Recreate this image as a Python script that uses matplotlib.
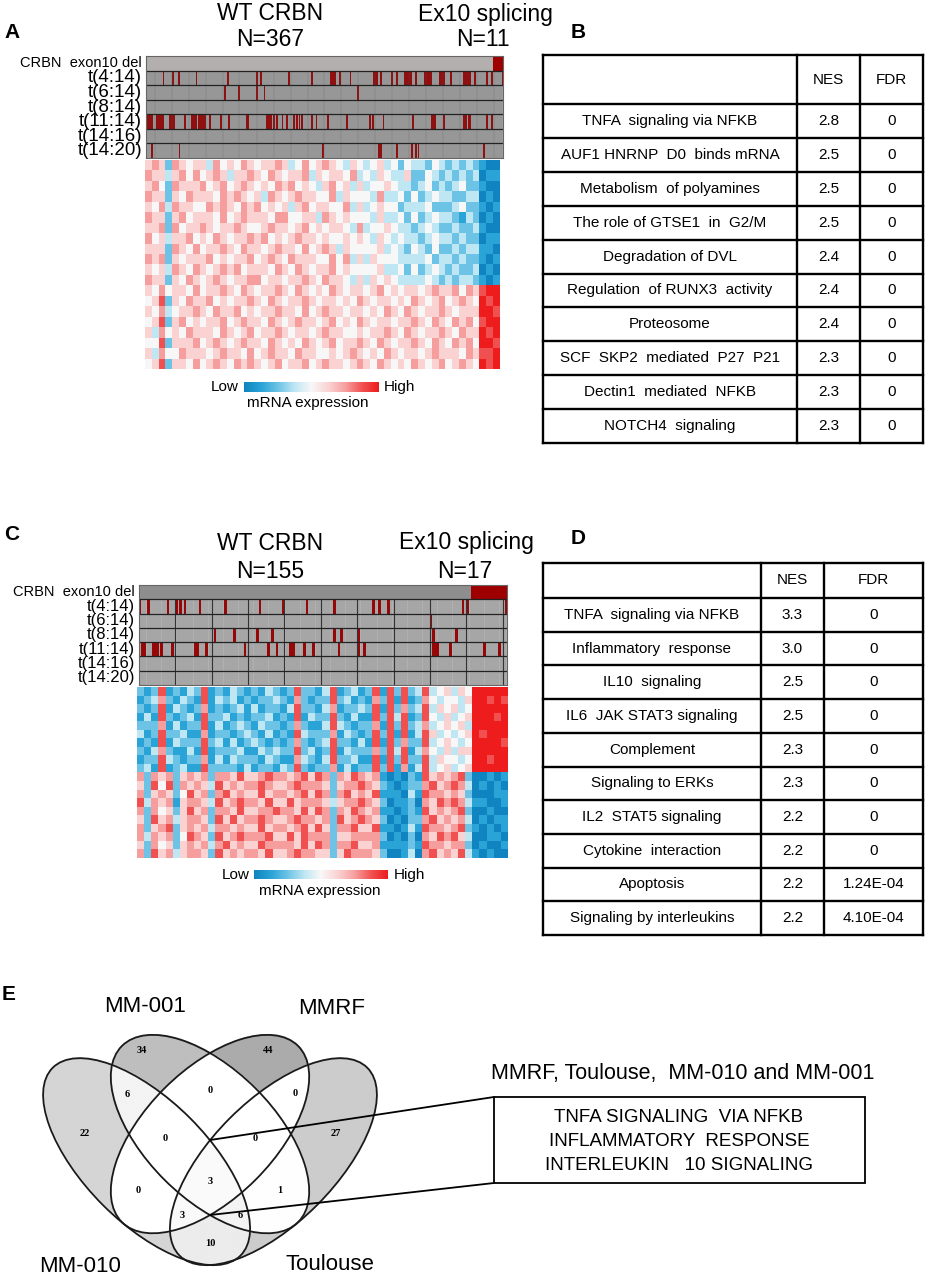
import numpy as np
import matplotlib.pyplot as plt
from matplotlib.colors import LinearSegmentedColormap, ListedColormap
from matplotlib.patches import Ellipse, Rectangle, ConnectionPatch

plt.rcParams['font.family'] = ['Liberation Sans', 'DejaVu Sans']

W, H = 927, 1278

# -----------------------------------
# Data
# -----------------------------------

track_names = ["CRBN  exon10 del", "t(4:14)", "t(6:14)", "t(8:14)",
               "t(11:14)", "t(14:16)", "t(14:20)"]

# panel A cohort
a_n_wt, a_n_ex = 367, 11
a_t4_14 = [18, 28, 34, 53, 86, 117, 121, 151, 175, 195, 196, 197, 198, 199, 200,
           205, 216, 241, 242, 243, 244, 248, 260, 265, 274, 275, 276, 278, 280,
           285, 295, 296, 298, 300, 301, 311, 312, 314, 315, 322, 336, 337, 339,
           340, 343, 348, 361, 366, 377]
a_t6_14 = [83, 98, 117, 125, 224]
a_t8_14 = []
a_t11_14 = [0, 1, 2, 3, 4, 5, 6, 11, 12, 14, 16, 18, 25, 27, 29, 41, 48, 49, 51,
            52, 56, 57, 59, 61, 62, 67, 79, 87, 106, 107, 108, 128, 130, 132, 135,
            138, 144, 149, 156, 159, 162, 165, 175, 180, 192, 212, 237, 240, 251,
            282, 302, 303, 305, 306, 315, 336, 338, 341, 343, 361, 366]
a_t14_16 = []
a_t14_20 = [6, 35, 187, 246, 248, 265, 281, 285, 288, 357]

# panel C cohort
c_n_wt, c_n_ex = 155, 17
c_t4_14 = [0, 4, 13, 17, 19, 21, 28, 40, 56, 67, 78, 91, 109, 112, 116, 151, 153, 171]
c_t6_14 = [136]
c_t8_14 = [35, 44, 55, 62, 91, 94, 102, 137, 148]
c_t11_14 = [1, 2, 6, 7, 8, 10, 15, 26, 27, 31, 49, 60, 64, 70, 71, 72, 77, 81, 93,
            102, 105, 137, 138, 139, 145, 161, 168]
c_t14_16 = []
c_t14_20 = []

# heatmaps, coarse levels (0 = low/blue, 4 = white, 8 = high/red)
heat_a_rows = [
    "5652 6545 5364 5465 4556 5346 4565 4354 3453 4243 3243 2323 2100",
    "6553 5646 4565 3556 5465 4556 3545 5463 4354 3352 2432 3232 3011",
    "5642 6555 6456 4565 4546 5645 4356 4535 3445 4332 3423 2342 2100",
    "6552 5465 5546 5654 5365 4565 5446 3544 4363 3424 2343 3223 3010",
    "5463 6554 4656 5465 6454 5356 4554 4635 3454 4233 3422 2342 2101",
    "6552 5645 5546 4565 5546 6445 5365 4544 4353 3424 2343 3213 2010",
    "5562 6455 6545 5654 4565 5456 4545 5436 3445 4332 3432 2322 3100",
    "6453 5564 5465 4556 5645 4565 5454 4545 4354 3433 2343 3232 2011",
    "5552 6546 4556 5465 5456 5546 4565 3544 4453 4324 3242 2323 3110",
    "6562 5455 5645 4556 4565 4655 5446 4635 3544 4333 3423 3232 2101",
    "5453 6546 5456 5645 5546 5465 4556 4544 4453 3424 2343 2322 3010",
    "6552 5465 4565 4556 6455 4556 5465 5435 3545 4333 3432 3233 2101",
    "5464 5546 4556 5465 4556 5465 4546 5455 4564 5455 4565 5646 5788",
    "4572 5465 5645 4556 5465 4556 5455 4546 5455 4546 5456 4565 4878",
    "5463 4556 5465 5645 4556 5546 4565 5455 4546 5465 4556 5455 5887",
    "4572 5645 4556 4565 5465 4565 5456 4546 5455 4556 5465 4656 4788",
    "5364 5465 5546 5456 4556 5455 4565 5445 4556 5465 4556 5465 5878",
    "4472 5556 4565 4565 5465 4546 5456 4556 5465 4556 5465 4656 4887",
    "5364 4655 5456 5546 4565 5465 5445 4565 4546 5455 4565 5546 5778",
    "4572 5546 4565 4656 5456 4556 4565 5456 5465 4546 5456 4565 4878",
]
heat_c_rows = [
    "2127 1213 2712 1321 2132 1272 2137 1231 2717 2723 7345 3548 8888",
    "1236 2132 1713 2312 1223 2162 1227 2312 1627 1712 6434 4358 8787",
    "2127 1321 2612 1231 3122 1372 2136 1223 2717 2623 7354 5348 8888",
    "1317 2123 1722 3121 2231 2171 3227 2131 1727 3712 7435 3458 8878",
    "2226 1312 2713 1232 1322 1262 1137 3212 2617 2723 6345 4538 8888",
    "3127 2231 1612 2123 2131 2173 2226 1321 2727 1713 7534 3458 7888",
    "1217 1322 2723 1312 3212 1262 1237 2213 1717 2622 7345 4348 8887",
    "2136 2113 1712 2231 1323 2272 3127 1322 2627 3713 6435 3558 8888",
    "1227 3212 2613 1322 2132 1163 2137 2231 1717 2722 7354 4348 8788",
    "2317 1231 1722 2213 1221 3272 1226 1312 2727 1613 7345 3458 8888",
    "6265 6256 5626 6575 5676 6567 5762 6576 5610 1021 7565 6720 0101",
    "5274 7265 6537 5656 6765 5676 6652 5667 6521 0122 6756 7630 1010",
    "6256 5247 5626 7565 5756 6567 5762 6756 5711 1031 7665 6520 0011",
    "7365 6156 6537 5676 6575 5756 6653 5667 6520 1120 6576 7631 1001",
    "6264 5257 5626 6575 5667 6657 5762 6576 5611 0121 7565 6720 0100",
    "5275 6356 6527 5756 6765 5676 6562 7567 6520 1022 6756 5630 1011",
    "6256 7256 5636 6565 5756 6567 5752 6675 5711 0131 7665 6721 0101",
    "6365 6247 6527 5676 6675 5757 6662 5566 6620 1020 6576 7530 0110",
    "5264 5256 5636 7565 5766 6657 5762 6675 5611 1121 7665 6620 1001",
    "6275 6356 6527 5656 6575 5676 6552 5766 6520 0130 6756 5731 0100",
]

pathways_b = ["TNFA  signaling via NFKB", "AUF1 HNRNP  D0  binds mRNA",
              "Metabolism  of polyamines", "The role of GTSE1  in  G2/M",
              "Degradation of DVL", "Regulation  of RUNX3  activity",
              "Proteosome", "SCF  SKP2  mediated  P27  P21",
              "Dectin1  mediated  NFKB", "NOTCH4  signaling"]
nes_b = ["2.8", "2.5", "2.5", "2.5", "2.4", "2.4", "2.4", "2.3", "2.3", "2.3"]
fdr_b = ["0"] * 10

pathways_d = ["TNFA  signaling via NFKB", "Inflammatory  response", "IL10  signaling",
              "IL6  JAK STAT3 signaling", "Complement", "Signaling to ERKs",
              "IL2  STAT5 signaling", "Cytokine  interaction", "Apoptosis",
              "Signaling by interleukins"]
nes_d = ["3.3", "3.0", "2.5", "2.5", "2.3", "2.3", "2.2", "2.2", "2.2", "2.2"]
fdr_d = ["0", "0", "0", "0", "0", "0", "0", "0", "1.24E-04", "4.10E-04"]

# membership order: MM-010, MM-001, MMRF, Toulouse
venn_sets = ["MM-010", "MM-001", "MMRF", "Toulouse"]
venn_counts = {
    (1, 0, 0, 0): 22, (0, 1, 0, 0): 34, (0, 0, 1, 0): 44, (0, 0, 0, 1): 27,
    (1, 1, 0, 0): 6, (0, 1, 1, 0): 0, (0, 0, 1, 1): 0, (1, 0, 0, 1): 10,
    (1, 0, 1, 0): 0, (0, 1, 0, 1): 1, (1, 1, 1, 0): 0, (0, 1, 1, 1): 0,
    (1, 0, 1, 1): 3, (1, 1, 0, 1): 6, (1, 1, 1, 1): 3,
}
shared_title = "MMRF, Toulouse,  MM-010 and MM-001"
shared_terms = ["TNFA SIGNALING  VIA NFKB", "INFLAMMATORY  RESPONSE",
                "INTERLEUKIN   10 SIGNALING"]

# -----------------------------------
# Figure
# -----------------------------------

fig = plt.figure(figsize=(W / 100, H / 100), dpi=100)


def px_axes(x0, y0, x1, y1):
    return fig.add_axes([x0 / W, 1 - y1 / H, (x1 - x0) / W, (y1 - y0) / H])


heat_cmap = LinearSegmentedColormap.from_list(
    "lowhigh", ["#0f84c0", "#2aa3d6", "#6cc3e6", "#bfe6f3", "#f8f8f8",
                "#fbd3d3", "#f7a0a0", "#f25252", "#ee1c1c"])


def draw_tracks(box, n_wt, n_ex, marks, grey, crbn_grey, mark_w, group=None):
    ax = px_axes(*box)
    n = n_wt + n_ex
    m = np.zeros((7, n))
    m[0, :] = 2
    m[0, n_wt:] = 1
    cmap = ListedColormap([grey, "#9e0000", crbn_grey])
    ax.pcolormesh(m, cmap=cmap, vmin=0, vmax=2)
    ax.vlines(np.arange(1, n), 1, 7, color="#555555", lw=0.3, alpha=0.5)
    if group:
        ax.vlines(np.arange(group, n, group), 1, 7, color="#333333", lw=0.8)
    for i, idx in enumerate(marks, start=1):
        if idx:
            ax.bar(np.array(idx) + 0.5, 1, width=mark_w, bottom=i, color="#9e0000",
                   linewidth=0)
    ax.hlines(np.arange(1, 7), 0, n, color="#222222", lw=0.9)
    ax.set_xlim(0, n)
    ax.set_ylim(7, 0)
    ax.set_xticks([])
    ax.set_yticks([])
    for s in ax.spines.values():
        s.set_color("#666666")
        s.set_linewidth(0.8)
    return ax


def draw_heat(box, rows):
    ax = px_axes(*box)
    mat = np.array([[int(ch) for ch in r.replace(" ", "")] for r in rows])
    ax.imshow(mat, cmap=heat_cmap, vmin=0, vmax=8, aspect="auto",
              interpolation="nearest")
    ax.axis("off")


def draw_cbar(box):
    ax = px_axes(*box)
    ax.imshow(np.linspace(0, 1, 256)[None, :], cmap=heat_cmap, aspect="auto")
    ax.axis("off")


# panel A
draw_tracks((146, 56, 503, 158), a_n_wt, a_n_ex,
            [a_t4_14, a_t6_14, a_t8_14, a_t11_14, a_t14_16, a_t14_20],
            "#a8a8a8", "#b4afaf", mark_w=2.0)
draw_heat((145, 160, 500, 369), heat_a_rows)
draw_cbar((244, 382, 378, 392))

# panel C
draw_tracks((139, 585, 507, 685), c_n_wt, c_n_ex,
            [c_t4_14, c_t6_14, c_t8_14, c_t11_14, c_t14_16, c_t14_20],
            "#b0b0b0", "#8e8e8e", mark_w=1.25, group=17)
draw_heat((137, 687, 508, 858), heat_c_rows)
draw_cbar((254, 870, 387, 879))

# -----------------------------------
# Venn (panel E)
# -----------------------------------

venn = px_axes(23.5, 990.1, 396.5, 1277.3)
venn.set_xlim(0, 1)
venn.set_ylim(0.16, 0.93)
venn.axis("off")

ellipses = [((0.330, 0.470), 0.356, 0.165, 135),   # MM-010
            ((0.500, 0.544), 0.334, 0.173, 135),   # MM-001
            ((0.500, 0.544), 0.334, 0.173, 45),    # MMRF
            ((0.670, 0.470), 0.356, 0.165, 45)]    # Toulouse

gx, gy = np.meshgrid(np.linspace(0, 1, 700), np.linspace(0.16, 0.93, 540))
inside = []
for (cx, cy), a, b, ang in ellipses:
    t = np.deg2rad(ang)
    dx, dy = gx - cx, gy - cy
    u = dx * np.cos(t) + dy * np.sin(t)
    v = -dx * np.sin(t) + dy * np.cos(t)
    inside.append((u / a) ** 2 + (v / b) ** 2 <= 1)
shade = np.ones(gx.shape)
for key, cnt in venn_counts.items():
    mask = np.ones(gx.shape, bool)
    for k, flag in enumerate(key):
        mask &= inside[k] if flag else ~inside[k]
    shade[mask] = 1 - cnt * 0.0075
venn.imshow(shade, cmap="gray", vmin=0, vmax=1, origin="lower",
            extent=(0, 1, 0.16, 0.93), aspect="auto", interpolation="bilinear")
for (cx, cy), a, b, ang in ellipses:
    venn.add_patch(Ellipse((cx, cy), 2 * a, 2 * b, angle=ang, fill=False,
                           ec="#1a1a1a", lw=1.3))

venn_label_pos = {
    (1, 0, 0, 0): (0.165, 0.546), (0, 1, 0, 0): (0.317, 0.767),
    (0, 0, 1, 0): (0.657, 0.767), (0, 0, 0, 1): (0.836, 0.546),
    (1, 1, 0, 0): (0.277, 0.649), (0, 1, 1, 0): (0.500, 0.662),
    (0, 0, 1, 1): (0.728, 0.653), (1, 0, 0, 1): (0.500, 0.251),
    (1, 0, 1, 0): (0.308, 0.394), (0, 1, 0, 1): (0.688, 0.394),
    (1, 1, 1, 0): (0.380, 0.533), (0, 1, 1, 1): (0.621, 0.533),
    (1, 0, 1, 1): (0.425, 0.327), (1, 1, 0, 1): (0.581, 0.327),
    (1, 1, 1, 1): (0.500, 0.416),
}
for key, cnt in venn_counts.items():
    x, y = venn_label_pos[key]
    venn.text(x, y, str(cnt), ha="center", va="center", fontsize=7.5,
              fontweight="bold", family="Liberation Serif")

# -----------------------------------
# Overlay for texts, tables and callout
# -----------------------------------

ov = fig.add_axes([0, 0, 1, 1], zorder=10)
ov.set_xlim(0, W)
ov.set_ylim(H, 0)
ov.axis("off")

for lab, x, y in [("A", 4, 33), ("B", 571, 33), ("C", 4, 535), ("D", 571, 538), ("E", 2, 995)]:
    ov.text(x, y, lab, fontsize=15, fontweight="bold", ha="left", va="center")

big = 16.5
ov.text(270, 14, "WT CRBN", fontsize=big, ha="center", va="center")
ov.text(270, 39, f"N={a_n_wt}", fontsize=big, ha="center", va="center")
ov.text(485, 14, "Ex10 splicing", fontsize=big, ha="center", va="center")
ov.text(483, 39, f"N={a_n_ex}", fontsize=big, ha="center", va="center")
ov.text(270, 543, "WT CRBN", fontsize=big, ha="center", va="center")
ov.text(270, 572, f"N={c_n_wt}", fontsize=big, ha="center", va="center")
ov.text(466, 543, "Ex10 splicing", fontsize=big, ha="center", va="center")
ov.text(465, 572, f"N={c_n_ex}", fontsize=big, ha="center", va="center")

for y0, y1, xr, fs_t in [(56, 158, 142, 13.5), (585, 685, 135, 12)]:
    rh = (y1 - y0) / 7
    for i, name in enumerate(track_names):
        ov.text(xr, y0 + rh * (i + 0.5), name, ha="right", va="center",
                fontsize=10.5 if i == 0 else fs_t)

for xl, xh, yc, xm in [(239, 384, 387, 308), (250, 394, 875, 320)]:
    ov.text(xl, yc, "Low", ha="right", va="center", fontsize=11)
    ov.text(xh, yc, "High", ha="left", va="center", fontsize=11)
    ov.text(xm, yc + 16, "mRNA expression", ha="center", va="center", fontsize=11)


def draw_table(xs, y_top, head_h, row_h, names, nes, fdr):
    n = len(names)
    ys = [y_top, y_top + head_h] + [y_top + head_h + row_h * (i + 1) for i in range(n)]
    for y in ys:
        ov.plot([xs[0], xs[-1]], [y, y], color="k", lw=1.7, solid_capstyle="projecting")
    for x in xs:
        ov.plot([x, x], [ys[0], ys[-1]], color="k", lw=1.7)
    xc = [(xs[i] + xs[i + 1]) / 2 for i in range(3)]
    ov.text(xc[1], y_top + head_h / 2, "NES", ha="center", va="center", fontsize=11)
    ov.text(xc[2], y_top + head_h / 2, "FDR", ha="center", va="center", fontsize=11)
    for i in range(n):
        yc = y_top + head_h + row_h * (i + 0.5)
        ov.text(xc[0], yc, names[i], ha="center", va="center", fontsize=11)
        ov.text(xc[1], yc, nes[i], ha="center", va="center", fontsize=11)
        ov.text(xc[2], yc, fdr[i], ha="center", va="center", fontsize=11)


draw_table([543, 797, 860, 923], 55, 49, 33.9, pathways_b, nes_b, fdr_b)
draw_table([543, 761, 824, 923], 563, 35, 33.7, pathways_d, nes_d, fdr_d)

# venn set names
ov.text(145, 1007, venn_sets[1], fontsize=16, ha="center", va="center")
ov.text(332, 1008, venn_sets[2], fontsize=16, ha="center", va="center")
ov.text(80, 1266, venn_sets[0], fontsize=16, ha="center", va="center")
ov.text(330, 1265, venn_sets[3], fontsize=16, ha="center", va="center")

# callout box
ov.text(683, 1073, shared_title, fontsize=15.5, ha="center", va="center")
ov.add_patch(Rectangle((494, 1097), 371, 86, fill=False, ec="k", lw=1.3))
for i, term in enumerate(shared_terms):
    ov.text(679, 1117 + 24 * i, term, fontsize=13.5, ha="center", va="center")

for (vx, vy), (bx, by) in [((0.5, 0.528), (494, 1097)), ((0.5, 0.327), (494, 1183))]:
    con = ConnectionPatch(xyA=(vx, vy), coordsA=venn.transData,
                          xyB=(bx, by), coordsB=ov.transData, color="k", lw=1.3)
    fig.add_artist(con)

fig.savefig("out.png", dpi=100)
